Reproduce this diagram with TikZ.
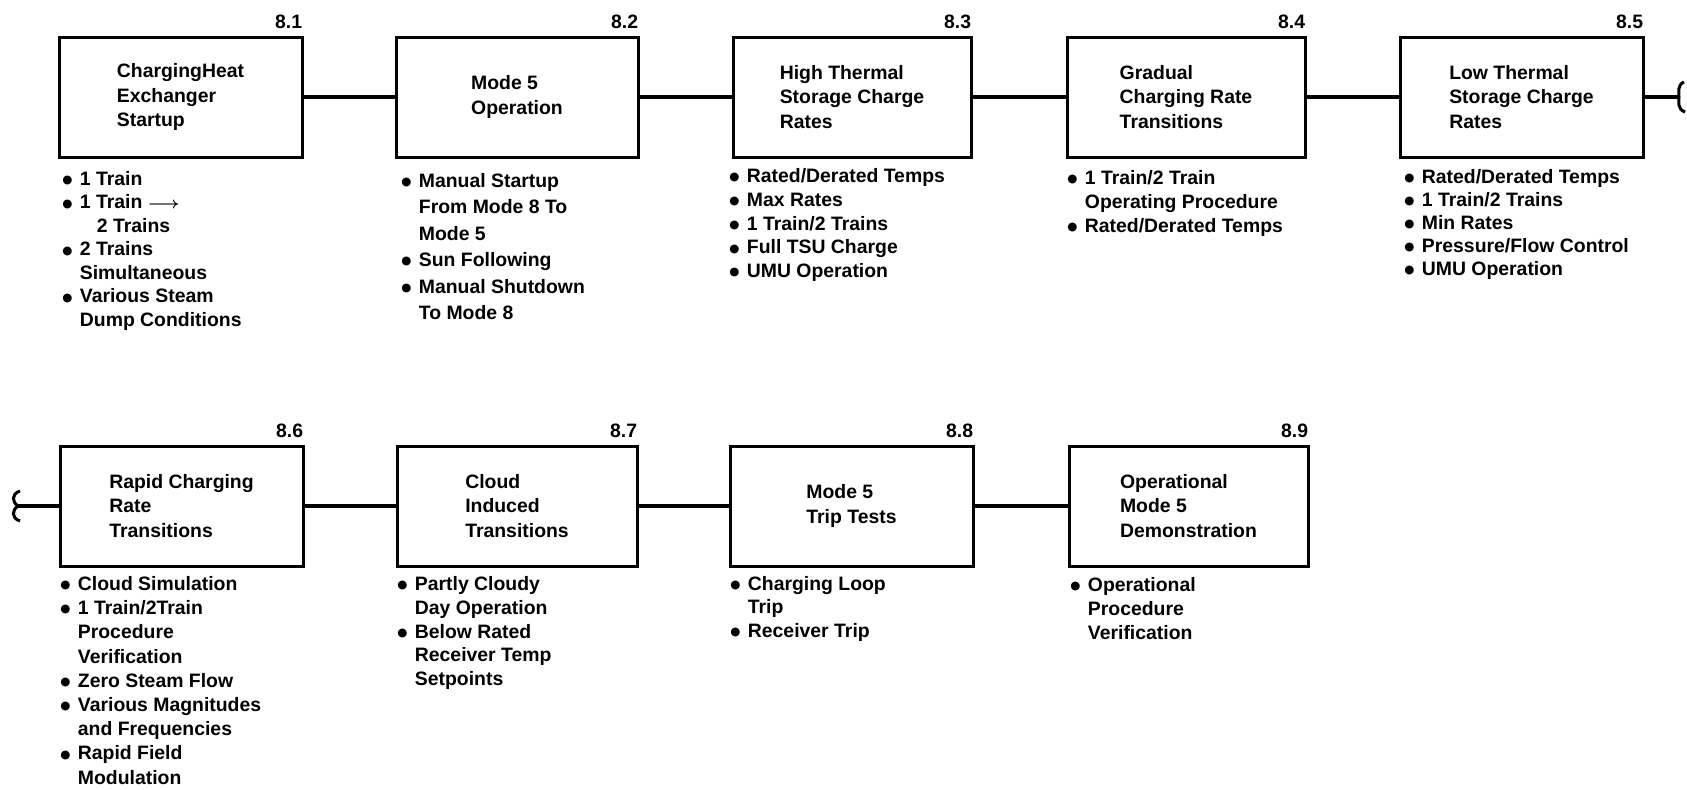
\documentclass[tikz,border=0pt]{standalone}
\usepackage{fontspec}
\setmainfont{Liberation Sans}
\newfontfamily\dejavu{DejaVu Sans}
\newcommand\bu{\makebox[8.75pt][l]{\raisebox{0.9pt}{\dejavu\fontsize{5.8}{6}\selectfont ●}}}
\newcommand\ct{\hspace*{8.75pt}}
\newcommand\fs{\rule{0pt}{8pt}}
\newcommand\arr{{\fontsize{8}{8}\selectfont\boldmath$\longrightarrow$}}
\begin{document}
\begin{tikzpicture}[x=0.5pt,y=-0.5pt,
  every node/.style={font=\bfseries\fontsize{9.7}{12.25}\selectfont, inner sep=0pt},
  box/.style={draw, line width=1.5pt, minimum height=60pt, align=left},
  conn/.style={line width=2pt},
  squig/.style={line width=1.5pt},
  lst/.style={anchor=north west, align=left, font=\bfseries\fontsize{9.7}{#1}\selectfont},
  num/.style={anchor=base east}]
\useasboundingbox (0,0) rectangle (1687,789);

% top row boxes
\node[box, minimum width=121.5pt] (b1) at (180.5,97) {ChargingHeat\\Exchanger\\Startup};
\node[box, minimum width=121pt] (b2) at (517,97) {Mode 5\\Operation};
\node[box, minimum width=119pt] (b3) at (852,97) {High Thermal\hspace*{8pt}\\Storage Charge\hspace*{8pt}\\Rates};
\node[box, minimum width=119pt] (b4) at (1186,97) {Gradual\\Charging Rate\\Transitions};
\node[box, minimum width=121.5pt] (b5) at (1521.5,97) {Low Thermal\\Storage Charge\\Rates};

% bottom row boxes
\node[box, minimum width=121.5pt] (b6) at (181.5,506) {Rapid Charging\\Rate\\Transitions};
\node[box, minimum width=120pt] (b7) at (517,506) {Cloud\\Induced\\Transitions};
\node[box, minimum width=121.5pt] (b8) at (851.5,506) {Mode 5\\Trip Tests};
\node[box, minimum width=119.5pt] (b9) at (1188.5,506) {Operational\\Mode 5\\Demonstration};

% numbers
\foreach \b/\t in {b1/8.1,b2/8.2,b3/8.3,b4/8.4,b5/8.5,b6/8.6,b7/8.7,b8/8.8,b9/8.9}
  \node[num] (n\b) at ([xshift=-0.5pt,yshift=3.6pt]\b.north east) {\t};

% connectors
\draw[conn] (b1.east) -- (b2.west);
\draw[conn] (b2.east) -- (b3.west);
\draw[conn] (b3.east) -- (b4.west);
\draw[conn] (b4.east) -- (b5.west);
\draw[conn] (b6.east) -- (b7.west);
\draw[conn] (b7.east) -- (b8.west);
\draw[conn] (b8.east) -- (b9.west);

\coordinate (e5) at (1679,97);
\draw[conn] (b5.east) -- (e5);
\draw[squig] (1684,82) .. controls (1677,85) and (1679,92) .. (e5)
                       .. controls (1679,102) and (1677,109) .. (1685,112);
\coordinate (s6) at (18,506);
\draw[conn] (s6) -- (b6.west);
\draw[squig] (20,491) .. controls (11,494) and (12,502) .. (s6)
                      .. controls (12,510) and (11,518) .. (20,521);

% bullet lists (north = first baseline - 16px)
\node[lst=11.75pt] (l1) at (62,169) {\fs\bu 1 Train\\
\bu 1 Train \arr\\
\ct\hspace*{8.5pt}2 Trains\\
\bu 2 Trains\\
\ct Simultaneous\\
\bu Various Steam\\
\ct Dump Conditions};

\node[lst=13.2pt] (l2) at (401,171) {\fs\bu Manual Startup\\
\ct From Mode 8 To\\
\ct Mode 5\\
\bu Sun Following\\
\bu Manual Shutdown\\
\ct To Mode 8};

\node[lst=11.9pt] (l3) at (729,166) {\fs\bu Rated/Derated Temps\\
\bu Max Rates\\
\bu 1 Train/2 Trains\\
\bu Full TSU Charge\\
\bu UMU Operation};

\node[lst=12pt] (l4) at (1067,168) {\fs\bu 1 Train/2 Train\\
\ct Operating Procedure\\
\bu Rated/Derated Temps};

\node[lst=11.5pt] (l5) at (1404,167) {\fs\bu Rated/Derated Temps\\
\bu 1 Train/2 Trains\\
\bu Min Rates\\
\bu Pressure/Flow Control\\
\bu UMU Operation};

\node[lst=12.1pt] (l6) at (60,574) {\fs\bu Cloud Simulation\\
\bu 1 Train/2Train\\
\ct Procedure\\
\ct Verification\\
\bu Zero Steam Flow\\
\bu Various Magnitudes\\
\ct and Frequencies\\
\bu Rapid Field\\
\ct Modulation};

\node[lst=11.9pt] (l7) at (397,574) {\fs\bu Partly Cloudy\\
\ct Day Operation\\
\bu Below Rated\\
\ct Receiver Temp\\
\ct Setpoints};

\node[lst=11.75pt] (l8) at (730,574) {\fs\bu Charging Loop\\
\ct Trip\\
\bu Receiver Trip};

\node[lst=12pt] (l9) at (1070,575) {\fs\bu Operational\\
\ct Procedure\\
\ct Verification};
\end{tikzpicture}
\end{document}
